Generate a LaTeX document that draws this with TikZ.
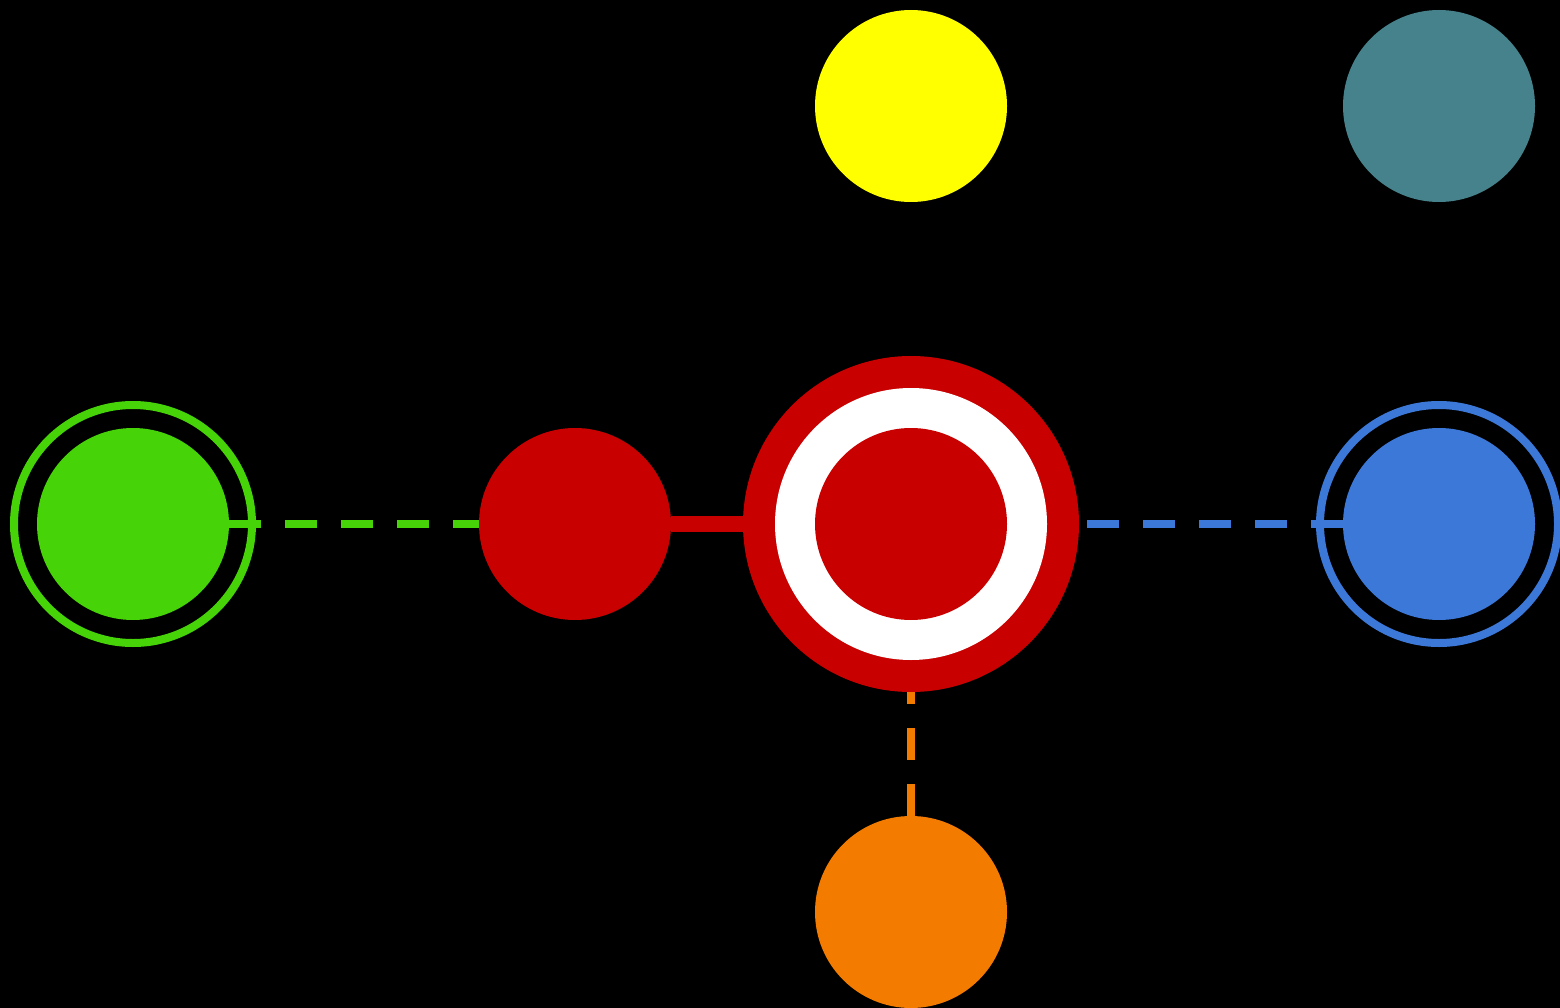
\documentclass[tikz,border=0pt]{standalone}
\definecolor{cgreen}{RGB}{70,211,8}
\definecolor{cred}{RGB}{200,0,0}
\definecolor{cblue}{RGB}{60,120,216}
\definecolor{cteal}{RGB}{70,130,140}
\definecolor{corange}{RGB}{243,123,0}
\definecolor{cyellow}{RGB}{255,255,0}
\begin{document}
\begin{tikzpicture}[x=1pt,y=-1pt,
  disk/.style={circle,inner sep=0pt,minimum size=192pt,draw=none},
  dashlink/.style={line width=8pt,dash pattern=on 32pt off 24pt},
  ring/.style={line width=8pt}]
\fill[black] (0,0) rectangle (1560,1008);
\useasboundingbox (0,0) rectangle (1560,1008);
% nodes
\node[disk,fill=cyellow] (y) at (911,106) {};
\node[disk,fill=cteal] (t) at (1439,106) {};
\node[disk,fill=cgreen] (g) at (133,524) {};
\node[disk,fill=cred] (r) at (575,524) {};
\node[circle,inner sep=0pt,minimum size=336pt,fill=cred] (c) at (911,524) {};
\node[circle,inner sep=0pt,minimum size=272pt,fill=white] (cw) at (c.center) {};
\node[disk,fill=cred] (ci) at (c.center) {};
\node[disk,fill=cblue] (b) at (1439,524) {};
\node[disk,fill=corange] (o) at (911,912) {};
% rings
\draw[ring,cgreen] (g.center) circle (119pt);
\draw[ring,cblue] (b.center) circle (119pt);
% connectors
\draw[dashlink,cgreen] (g.east) -- (r.west);
\draw[line width=16pt,cred] (r.east) -- (c.west);
\draw[dashlink,cblue] (b.west) -- (c.east);
\draw[dashlink,corange] (o.north) -- (c.south);
\end{tikzpicture}
\end{document}
